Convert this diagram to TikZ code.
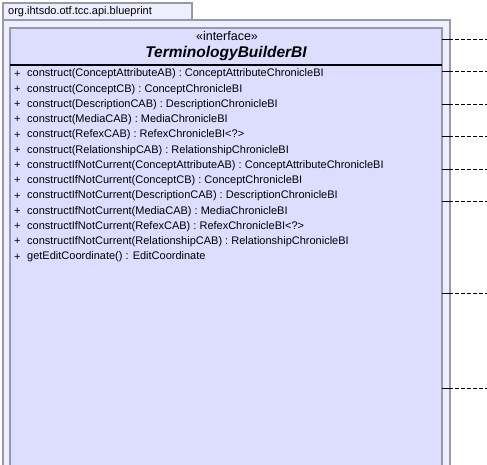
\documentclass[tikz,border=0pt]{standalone}
\usepackage{fontspec}
\setmainfont{Liberation Sans}
\usepackage{tikz}
\usetikzlibrary{positioning}
\definecolor{pkgfill}{RGB}{238,238,255}
\definecolor{clsfill}{RGB}{221,221,255}
\definecolor{edge}{RGB}{153,153,170}
\tikzset{pkg/.style={draw=edge,fill=pkgfill,line width=1.2pt},
  cls/.style={draw=edge,fill=clsfill,line width=1.2pt},
  dep/.style={black,line width=1pt,dash pattern=on 4pt off 2pt},
  op/.style={anchor=west,inner sep=0pt,font=\fontsize{11}{13}\selectfont}}
\begin{document}
\begin{tikzpicture}[x=1pt,y=-1pt]
\useasboundingbox (0,0) rectangle (487,464);
%package with its tab
\draw[pkg] (3,3) rectangle (192,20);
\draw[pkg] (3,20) rectangle (450,470);
\node[op] (pkgname) at (8,12) {org.ihtsdo.otf.tcc.api.blueprint};
%interface box
\draw[cls] (10,28) rectangle (442,470);
\node[font=\fontsize{12.5}{14}\selectfont,inner sep=0pt] (stereo) at (227,36) {«interface»};
\node[font=\fontsize{15.5}{18}\bfseries\itshape\selectfont,inner sep=0pt] (title) at (226,53) {TerminologyBuilderBI};
\draw[line width=2pt] (10,65)--(442,65);
%operations
\node[op] (p1) at (14,74) {+}; \node[op] (m1) at (27,74) {construct(ConceptAttributeAB) : ConceptAttributeChronicleBI};
\node[op] (p2) at (14,89.25) {+}; \node[op] (m2) at (27,89.25) {construct(ConceptCB) : ConceptChronicleBI};
\node[op] (p3) at (14,104.5) {+}; \node[op] (m3) at (27,104.5) {construct(DescriptionCAB) : DescriptionChronicleBI};
\node[op] (p4) at (14,119.75) {+}; \node[op] (m4) at (27,119.75) {construct(MediaCAB) : MediaChronicleBI};
\node[op] (p5) at (14,135) {+}; \node[op] (m5) at (27,135) {construct(RefexCAB) : RefexChronicleBI<?>};
\node[op] (p6) at (14,150.25) {+}; \node[op] (m6) at (27,150.25) {construct(RelationshipCAB) : RelationshipChronicleBI};
\node[op] (p7) at (14,165.5) {+}; \node[op] (m7) at (27,165.5) {constructIfNotCurrent(ConceptAttributeAB) : ConceptAttributeChronicleBI};
\node[op] (p8) at (14,180.75) {+}; \node[op] (m8) at (27,180.75) {constructIfNotCurrent(ConceptCB) : ConceptChronicleBI};
\node[op] (p9) at (14,196) {+}; \node[op] (m9) at (27,196) {constructIfNotCurrent(DescriptionCAB) : DescriptionChronicleBI};
\node[op] (p10) at (14,211.25) {+}; \node[op] (m10) at (27,211.25) {constructIfNotCurrent(MediaCAB) : MediaChronicleBI};
\node[op] (p11) at (14,226.5) {+}; \node[op] (m11) at (27,226.5) {constructIfNotCurrent(RefexCAB) : RefexChronicleBI<?>};
\node[op] (p12) at (14,241.75) {+}; \node[op] (m12) at (27,241.75) {constructIfNotCurrent(RelationshipCAB) : RelationshipChronicleBI};
\node[op] (p13) at (14,257) {+}; \node[op] (m13) at (27,257) {getEditCoordinate() : EditCoordinate};
%dependencies leaving to the right
\foreach \y [count=\i] in {39,71,104,136,169,201,293,388}{
  \coordinate (s\i) at (442,\y); \coordinate (b\i) at (449,\y); \coordinate (e\i) at (490,\y);
  \draw[line width=1pt] (s\i)--(b\i);
  \draw[dep] (b\i)--(e\i);
}
\end{tikzpicture}
\end{document}
